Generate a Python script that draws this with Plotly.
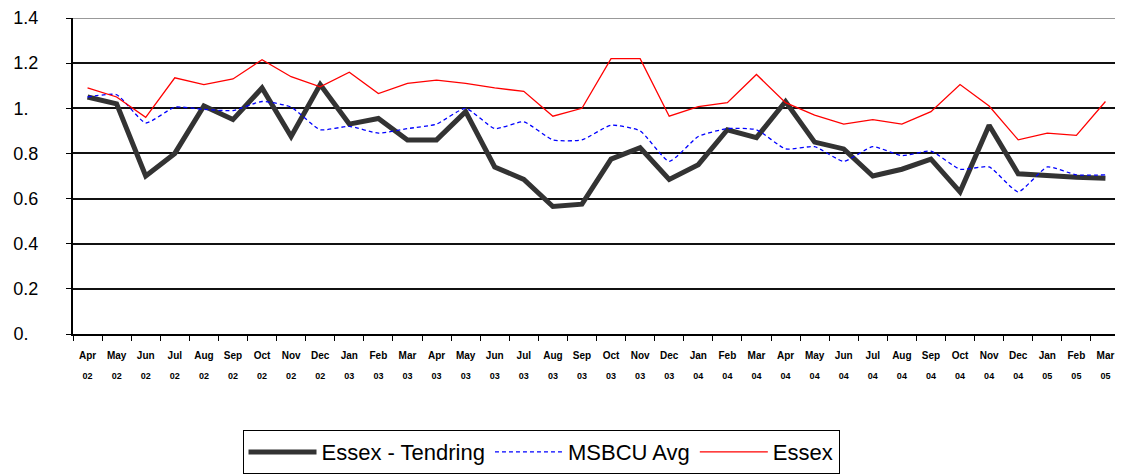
import plotly.graph_objects as go

months = ["Apr", "May", "Jun", "Jul", "Aug", "Sep", "Oct", "Nov", "Dec", "Jan", "Feb", "Mar"] * 3
years = ["02"] * 9 + ["03"] * 12 + ["04"] * 12 + ["05"] * 3
categories = [f"{m} {y}" for m, y in zip(months, years)]

essex_tendring = [1.05, 1.02, 0.70, 0.80, 1.01, 0.95, 1.09, 0.875, 1.105, 0.93, 0.955, 0.86,
                  0.86, 0.985, 0.74, 0.685, 0.565, 0.575, 0.775, 0.825, 0.685, 0.75, 0.905, 0.87,
                  1.03, 0.85, 0.82, 0.70, 0.73, 0.775, 0.63, 0.925, 0.71, 0.70, 0.695, 0.69]
msbcu_avg = [1.05, 1.06, 0.935, 1.005, 0.995, 0.99, 1.03, 1.005, 0.905, 0.92, 0.89, 0.91,
             0.93, 1.0, 0.91, 0.94, 0.86, 0.86, 0.925, 0.90, 0.765, 0.875, 0.91, 0.905,
             0.82, 0.83, 0.765, 0.83, 0.79, 0.81, 0.73, 0.74, 0.63, 0.74, 0.705, 0.705]
essex = [1.09, 1.05, 0.96, 1.135, 1.105, 1.13, 1.215, 1.14, 1.095, 1.16, 1.065, 1.11,
         1.125, 1.11, 1.09, 1.075, 0.965, 1.0, 1.22, 1.22, 0.965, 1.007, 1.025, 1.15,
         1.025, 0.97, 0.93, 0.95, 0.93, 0.985, 1.105, 1.01, 0.86, 0.89, 0.88, 1.03]

y_ticks = [0, 0.2, 0.4, 0.6, 0.8, 1.0, 1.2, 1.4]
y_tick_labels = ["0.\u00a0\u00a0", "0.2", "0.4", "0.6", "0.8", "1.\u00a0\u00a0", "1.2", "1.4"]

x_tick_text = [f"<span style='font-size:10px'><b>{m}</b></span><br><span style='font-size:9px'><b>{y}</b></span>"
               for m, y in zip(months, years)]

fig = go.Figure()
fig.add_trace(go.Scatter(x=categories, y=essex_tendring, name="Essex - Tendring", mode="lines",
                         line=dict(color="#333333", width=5)))
fig.add_trace(go.Scatter(x=categories, y=msbcu_avg, name="MSBCU Avg", mode="lines",
                         line=dict(color="#0000ff", width=1.3, dash="4px,3px", shape="spline", smoothing=0.5)))
fig.add_trace(go.Scatter(x=categories, y=essex, name="Essex", mode="lines",
                         line=dict(color="#ff0000", width=1.3)))

# page body has an 8px default margin, so the figure is sized to fit the window
fig.update_layout(
    width=1115, height=468,
    margin=dict(l=65, r=3, t=10, b=141),
    paper_bgcolor="white", plot_bgcolor="white",
    font=dict(family="Arial, Liberation Sans, sans-serif", color="black"),
    showlegend=True,
    legend=dict(orientation="h", x=0.447, xanchor="center", y=-0.30, yanchor="top",
                bordercolor="black", borderwidth=1, bgcolor="white",
                font=dict(size=22, color="black"), itemwidth=68,
                tracegroupgap=0),
    xaxis=dict(type="category", categoryorder="array", categoryarray=categories,
               tickmode="array", tickvals=categories, ticktext=x_tick_text,
               tickfont=dict(size=15, color="black"), automargin=False,
               showline=True, linecolor="black", linewidth=2,
               ticks="outside", ticklen=5, tickcolor="black", tickwidth=1,
               tickson="boundaries", showgrid=False, tickangle=0, ticklabelstandoff=5,
               range=[-0.5, len(categories) - 0.5]),
    yaxis=dict(range=[0, 1.4], tickmode="array", tickvals=y_ticks, ticktext=y_tick_labels,
               tickfont=dict(size=18, color="black"), automargin=False,
               showline=True, linecolor="black", linewidth=2,
               ticks="outside", ticklen=5, tickcolor="black", tickwidth=1,
               showgrid=True, gridcolor="#111111", gridwidth=1.5,
               zeroline=False, ticklabelstandoff=24),
    shapes=[dict(type="line", xref="paper", yref="y", x0=0, x1=1, y0=1.4, y1=1.4,
                 line=dict(color="#999999", width=2), layer="above")],
)

fig.write_html("out.html")
